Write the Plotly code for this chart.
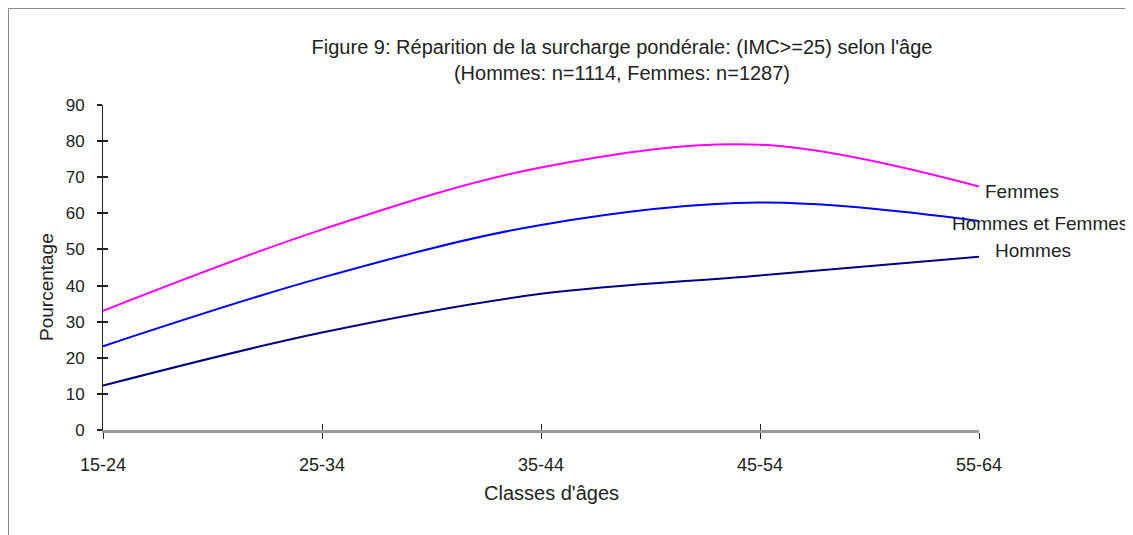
import plotly.graph_objects as go

categories = ["15-24", "25-34", "35-44", "45-54", "55-64"]
femmes = [33, 55.5, 72.7, 79, 67.4]
hommes_femmes = [23.2, 42.2, 56.8, 63, 57.9]
hommes = [12.3, 27, 37.7, 42.8, 48]
series_names = ["Femmes", "Hommes et Femmes", "Hommes"]
y_ticks = [0, 10, 20, 30, 40, 50, 60, 70, 80, 90]

FONT = "Liberation Sans"
TXT = "#222222"

W, H = 1125, 527
L, R, T, B = 95, 154, 97, 105
PW, PH = W - L - R, H - T - B

xs = list(range(len(categories)))
fig = go.Figure()
for vals, name, color in [
    (femmes, series_names[0], "#FF00FF"),
    (hommes_femmes, series_names[1], "#0000FF"),
    (hommes, series_names[2], "#000080"),
]:
    fig.add_trace(go.Scatter(
        x=xs, y=vals, name=name, mode="lines",
        line=dict(color=color, width=2, shape="spline", smoothing=1.0),
        showlegend=False, cliponaxis=False,
    ))

# crossing ticks via overlay axes
fig.add_trace(go.Scatter(x=[None], y=[None], xaxis="x2", yaxis="y2", showlegend=False))

label_pos = [
    (femmes[-1], series_names[0], 4, -5),
    (hommes_femmes[-1], series_names[1], -29, -3),
    (hommes[-1], series_names[2], 14, 6),
]
for y, name, xs_, ys_ in label_pos:
    fig.add_annotation(x=len(categories) - 1, y=y, xref="x", yref="y", text=name,
                       showarrow=False, xanchor="left", yanchor="middle",
                       xshift=xs_, yshift=ys_, font=dict(family=FONT, size=19, color=TXT))

# y axis title (placed lower than centre, as in the reference)
fig.add_annotation(x=-(L - 38) / PW, y=1 - (279 - T) / PH, xref="paper", yref="paper",
                   text="Pourcentage", textangle=-90, showarrow=False,
                   xanchor="center", yanchor="middle",
                   font=dict(family=FONT, size=19, color=TXT))
# x axis title (slightly right of centre, as in the reference)
fig.add_annotation(x=(543 - L) / PW, y=-(485 - (H - B)) / PH, xref="paper", yref="paper",
                   text="Classes d'âges", showarrow=False,
                   xanchor="center", yanchor="middle",
                   font=dict(family=FONT, size=20, color=TXT))

fig.update_layout(
    width=W, height=H,
    margin=dict(l=L, r=R, t=T, b=B),
    paper_bgcolor="white", plot_bgcolor="white",
    title=dict(
        text="Figure 9: Réparition de la surcharge pondérale: (IMC>=25) selon l'âge<br>(Hommes: n=1114, Femmes: n=1287)",
        x=614 / W, xanchor="center", y=1 - 46 / H, yanchor="middle",
        font=dict(family=FONT, size=20, color=TXT),
    ),
    xaxis=dict(
        range=[0, len(categories) - 1], tickmode="array", tickvals=xs, ticktext=categories,
        showgrid=False, zeroline=False, showline=True, linecolor="#999999", linewidth=3,
        ticks="outside", ticklen=6, tickcolor="#222222", tickwidth=1,
        tickfont=dict(family=FONT, size=18, color=TXT), ticklabelstandoff=10,
    ),
    yaxis=dict(
        range=[0, 90], tickmode="array", tickvals=y_ticks,
        showgrid=False, zeroline=False, showline=True, linecolor="#222222", linewidth=1,
        ticks="outside", ticklen=5, tickcolor="#222222", tickwidth=2,
        tickfont=dict(family=FONT, size=17, color=TXT), ticklabelstandoff=9,
    ),
    xaxis2=dict(range=[0, len(categories) - 1], overlaying="x", side="bottom", tickmode="array",
                tickvals=xs, ticks="inside", ticklen=6, tickcolor="#222222", tickwidth=1,
                showticklabels=False, showgrid=False, zeroline=False, showline=False),
    yaxis2=dict(range=[0, 90], overlaying="y", side="left", tickmode="array",
                tickvals=y_ticks, ticks="inside", ticklen=5, tickcolor="#222222", tickwidth=2,
                showticklabels=False, showgrid=False, zeroline=False, showline=False),
    shapes=[
        dict(type="line", xref="paper", yref="paper", x0=-(L - 0.5) / PW, x1=1.3,
             y0=1 + (T - 0.5) / PH, y1=1 + (T - 0.5) / PH, line=dict(color="#888888", width=1)),
        dict(type="line", xref="paper", yref="paper", x0=-(L - 0.5) / PW, x1=-(L - 0.5) / PW,
             y0=1 + (T - 0.5) / PH, y1=-0.5, line=dict(color="#888888", width=1)),
    ],
)

fig.write_html("out.html")
